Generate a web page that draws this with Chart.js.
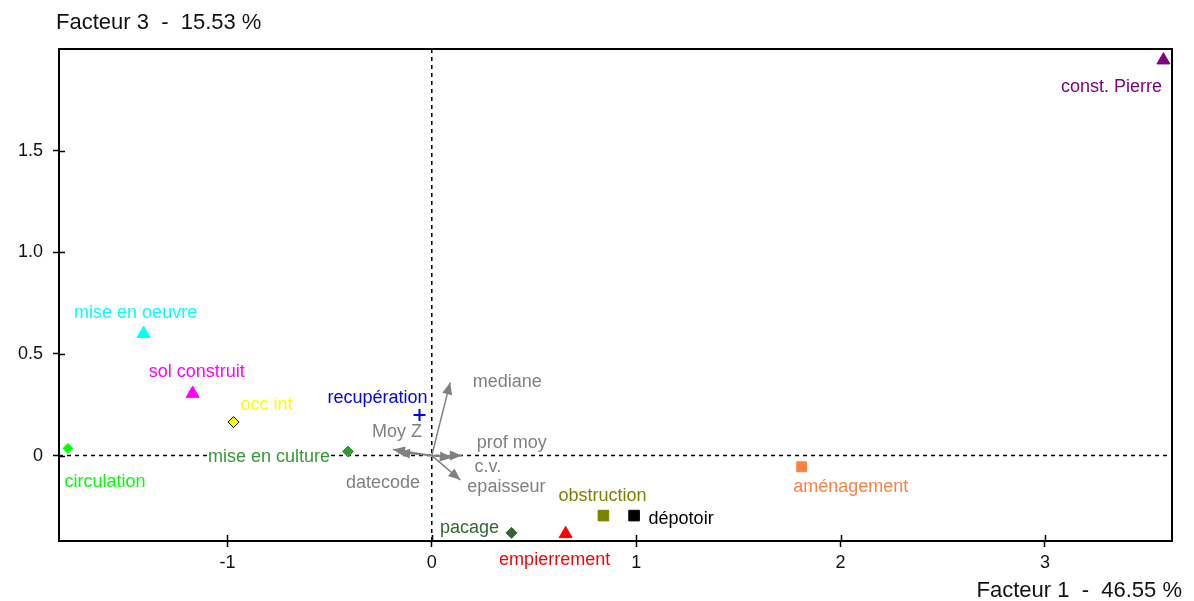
<!DOCTYPE html>
<html>
<head>
<meta charset="utf-8">
<script src="https://cdn.jsdelivr.net/npm/chart.js@4.4.1/dist/chart.umd.min.js"></script>
<style>
  html, body { margin: 0; padding: 0; background: #fff; }
  #wrap { width: 1194px; height: 601px; }
</style>
</head>
<body>
<div id="wrap"><canvas id="chart"></canvas></div>
<script>
// --- DATA ---
const pointNames = ['const. Pierre', 'mise en oeuvre', 'sol construit', 'occ int', 'circulation', 'mise en culture',
    'recupération', 'pacage', 'empierrement', 'obstruction', 'dépotoir', 'aménagement'];
const pointX = [3.58, -1.41, -1.17, -0.97, -1.78, -0.41, -0.06, 0.39, 0.655, 0.84, 0.99, 1.81];
const pointY = [1.945, 0.60, 0.305, 0.165, 0.035, 0.02, 0.20, -0.38, -0.385, -0.295, -0.295, -0.055];

const varNames = ['mediane', 'prof moy', 'c.v.', 'epaisseur', 'Moy Z', 'datecode'];
const varX = [0.09, 0.147, 0.098, 0.14, -0.19, -0.165];
const varY = [0.36, 0.0, -0.01, -0.12, 0.03, 0.015];

const xTicks = [-1, 0, 1, 2, 3];
const xTickLabels = ['-1', '0', '1', '2', '3'];
const yTicks = [0, 0.5, 1.0, 1.5];
const yTickLabels = ['0', '0.5', '1.0', '1.5'];

const xTitle = 'Facteur 1  -  46.55 %';
const yTitle = 'Facteur 3  -  15.53 %';

// --- STYLE ---
const pointColors = ['#800080', '#00ffff', '#ff00ff', '#ffff00', '#00ff00', '#339933',
    '#0000ff', '#336633', '#ff0000', '#808000', '#000000', '#ff8040'];
const pointShapes = ['triangle', 'triangle', 'triangle', 'rectRot', 'rectRot', 'rectRot',
    'cross', 'rectRot', 'triangle', 'rect', 'rect', 'rect'];
const pointSizes = [7.5, 7.5, 7.5, 5.5, 5, 5.5, 6, 5.5, 7.5, 7.5, 7.5, 7];
// label centre offsets from the mark, in px
const pointLabelOffsets = [[-52, 26], [-8, -22], [4, -23], [33, -18], [37, 33], [-79, 4],
    [-42, -18], [-42, -6], [-11, 25], [-1, -21], [47, 2], [49, 19]];
const varLabelOffsets = [[57, -1], [50, -14], [36, 8], [46, 6], [4, -18], [-15, 29]];

const GRAY = '#808080';
const FONT = "'Liberation Sans', Arial, sans-serif";
Chart.defaults.font.family = FONT;

// --- PLUGINS ---
// dashed axes through the origin, then the text labels (white box behind them)
const zeroLinesAndLabels = {
    id: 'zeroLinesAndLabels',
    beforeDatasetsDraw(chart) {
        const { ctx, chartArea: a, scales: { x, y } } = chart;
        const x0 = x.getPixelForValue(0);
        const y0 = y.getPixelForValue(0);
        ctx.save();
        ctx.strokeStyle = '#000';
        ctx.lineWidth = 1.5;
        ctx.setLineDash([4, 4]);
        ctx.beginPath();
        ctx.moveTo(x0, a.top);
        ctx.lineTo(x0, a.bottom);
        ctx.moveTo(a.left, y0);
        ctx.lineTo(a.right, y0);
        ctx.stroke();
        ctx.setLineDash([]);

        ctx.font = '18px ' + FONT;
        ctx.textAlign = 'center';
        ctx.textBaseline = 'middle';
        const drawLabel = (text, px, py, color) => {
            const w = ctx.measureText(text).width;
            ctx.fillStyle = '#fff';
            ctx.fillRect(px - w / 2 - 1, py - 8, w + 2, 16);
            ctx.fillStyle = color;
            ctx.fillText(text, px, py + 1);
        };
        pointNames.forEach((name, i) => {
            const px = x.getPixelForValue(pointX[i]) + pointLabelOffsets[i][0];
            const py = y.getPixelForValue(pointY[i]) + pointLabelOffsets[i][1];
            drawLabel(name, px, py, pointColors[i]);
        });
        varNames.forEach((name, i) => {
            const px = x.getPixelForValue(varX[i]) + varLabelOffsets[i][0];
            const py = y.getPixelForValue(varY[i]) + varLabelOffsets[i][1];
            drawLabel(name, px, py, GRAY);
        });
        ctx.restore();
    }
};

const arrowHeads = {
    id: 'arrowHeads',
    afterDatasetsDraw(chart) {
        const { ctx } = chart;
        ctx.save();
        ctx.fillStyle = GRAY;
        chart.data.datasets.forEach((ds, i) => {
            if (!ds.isArrow) return;
            const pts = chart.getDatasetMeta(i).data;
            const p0 = pts[0], p1 = pts[1];
            const ang = Math.atan2(p1.y - p0.y, p1.x - p0.x);
            const len = 12, half = 5;
            ctx.beginPath();
            ctx.moveTo(p1.x, p1.y);
            ctx.lineTo(p1.x - len * Math.cos(ang) + half * Math.sin(ang), p1.y - len * Math.sin(ang) - half * Math.cos(ang));
            ctx.lineTo(p1.x - len * Math.cos(ang) - half * Math.sin(ang), p1.y - len * Math.sin(ang) + half * Math.cos(ang));
            ctx.closePath();
            ctx.fill();
        });
        ctx.restore();
    }
};

const frameAndTitles = {
    id: 'frameAndTitles',
    afterDraw(chart) {
        const { ctx, chartArea: a, scales: { x, y } } = chart;
        ctx.save();
        ctx.strokeStyle = '#000';
        ctx.lineWidth = 2;
        ctx.strokeRect(a.left, a.top, a.right - a.left, a.bottom - a.top);
        // inner half of the tick marks
        ctx.lineWidth = 1.5;
        ctx.beginPath();
        x.ticks.forEach(t => {
            const px = Math.round(x.getPixelForValue(t.value)) + 0.5;
            ctx.moveTo(px, a.bottom);
            ctx.lineTo(px, a.bottom - 6);
        });
        y.ticks.forEach(t => {
            const py = Math.round(y.getPixelForValue(t.value)) + 0.5;
            ctx.moveTo(a.left, py);
            ctx.lineTo(a.left + 6, py);
        });
        ctx.stroke();

        ctx.fillStyle = '#111';
        ctx.font = '22px ' + FONT;
        ctx.textBaseline = 'middle';
        ctx.textAlign = 'left';
        ctx.fillText(yTitle, 56, 23);
        ctx.textAlign = 'right';
        ctx.fillText(xTitle, 1182, 591);
        ctx.restore();
    }
};

// --- DATASETS ---
const arrowDatasets = varNames.map((name, i) => ({
    type: 'line',
    label: name,
    isArrow: true,
    data: [{ x: 0, y: 0 }, { x: varX[i], y: varY[i] }],
    borderColor: GRAY,
    borderWidth: 1.5,
    pointRadius: 0,
    fill: false
}));

const pointDataset = {
    type: 'scatter',
    label: 'modalites',
    data: pointX.map((v, i) => ({ x: v, y: pointY[i] })),
    pointStyle: pointShapes,
    pointRadius: pointSizes,
    backgroundColor: pointColors,
    borderColor: pointColors.map((c, i) => pointNames[i] === 'occ int' ? '#000' : c),
    borderWidth: pointShapes.map(s => s === 'cross' ? 2 : 1)
};

const tickFont = { size: 18, family: FONT };

new Chart(document.getElementById('chart'), {
    type: 'scatter',
    data: { datasets: [...arrowDatasets, pointDataset] },
    options: {
        responsive: true,
        maintainAspectRatio: false,
        animation: false,
        layout: { padding: { left: 0, top: 49, right: 22, bottom: 0 } },
        plugins: { legend: { display: false }, tooltip: { enabled: false } },
        scales: {
            x: {
                type: 'linear',
                min: -1.824,
                max: 3.622,
                afterBuildTicks: s => { s.ticks = xTicks.map(v => ({ value: v })); },
                afterFit: s => { s.height = 60; },
                ticks: {
                    autoSkip: false,
                    maxRotation: 0,
                    padding: 5,
                    color: '#111',
                    font: tickFont,
                    callback: (v, i) => xTickLabels[i]
                },
                grid: { drawOnChartArea: false, tickLength: 6, tickColor: '#000', tickWidth: 1.5 },
                border: { display: true, color: '#000', width: 2 }
            },
            y: {
                type: 'linear',
                min: -0.42,
                max: 2.0,
                afterBuildTicks: s => { s.ticks = yTicks.map(v => ({ value: v })); },
                afterFit: s => { s.width = 59; },
                ticks: {
                    autoSkip: false,
                    padding: 10,
                    color: '#111',
                    font: tickFont,
                    callback: (v, i) => yTickLabels[i]
                },
                grid: { drawOnChartArea: false, tickLength: 6, tickColor: '#000', tickWidth: 1.5 },
                border: { display: true, color: '#000', width: 2 }
            }
        }
    },
    plugins: [zeroLinesAndLabels, arrowHeads, frameAndTitles]
});
</script>
</body>
</html>
